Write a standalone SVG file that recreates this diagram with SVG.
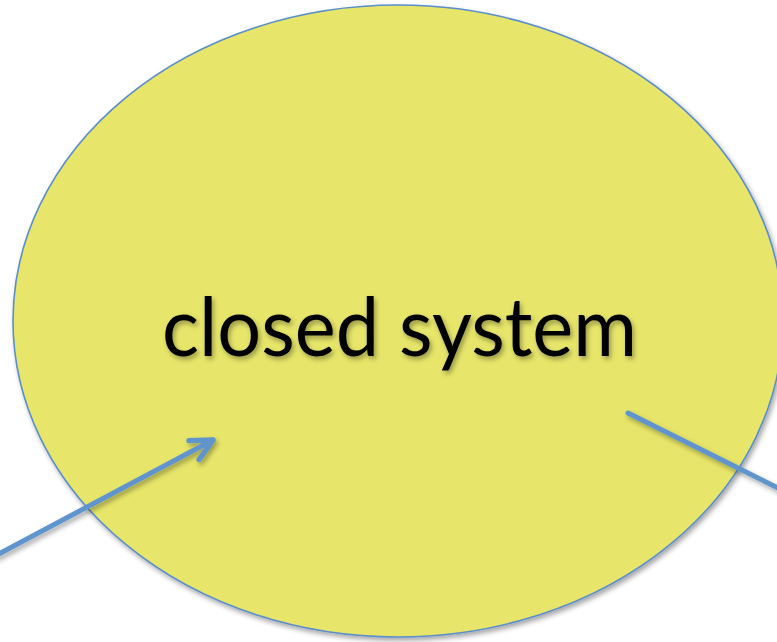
<svg xmlns="http://www.w3.org/2000/svg" width="777" height="642" viewBox="0 0 777 642">
  <defs>
    <filter id="softShadow" x="-10%" y="-10%" width="120%" height="120%">
      <feDropShadow dx="2" dy="3" stdDeviation="2.5" flood-color="#000" flood-opacity="0.35"/>
    </filter>
    <marker id="openArrow" markerUnits="userSpaceOnUse" markerWidth="30" markerHeight="30" viewBox="-24 -14 28 28" refX="0" refY="0" orient="auto" overflow="visible">
      <path d="M-20,-10 L0,0 L-20,10" fill="none" stroke="#5F95CC" stroke-width="5" stroke-linecap="round" stroke-linejoin="round"/>
    </marker>
  </defs>
  <style>
    .system { fill: #E7E66A; stroke: #5A8ECB; stroke-width: 1.6; }
    .label { font-family: "Lato", "Open Sans", "Liberation Sans", sans-serif; font-size: 82px; fill: #000; }
    .flow { fill: none; stroke: #5F95CC; stroke-width: 5; stroke-linecap: round; }
  </style>
  <rect width="777" height="642" fill="#fff"/>

  <g id="closed-system">
    <ellipse class="system" cx="398" cy="321" rx="385" ry="316" filter="url(#softShadow)"/>
    <text class="label" x="162" y="356" textLength="475" lengthAdjust="spacingAndGlyphs" filter="url(#softShadow)">closed system</text>
  </g>

  <g id="connectors" filter="url(#softShadow)">
    <path class="flow" d="M-5,556 L213,440" marker-end="url(#openArrow)"/>
    <path class="flow" d="M628,413 L800,499"/>
  </g>
</svg>
